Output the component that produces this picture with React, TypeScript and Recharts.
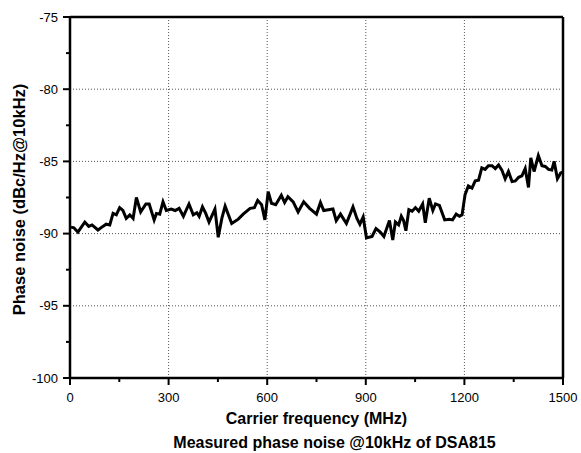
import React from "react";
import { LineChart, Line, XAxis, YAxis, ReferenceLine } from "recharts";

const freq = [
  3, 12, 24, 45, 57, 67, 85, 100, 110, 121, 131, 141, 151, 161, 171, 182, 192, 202, 215, 231, 241, 256, 263, 273, 283, 293, 308,
  320, 332, 345, 362, 375, 386, 393, 403, 413, 423, 441, 451, 462, 472, 492, 512, 527, 548, 561, 571, 583, 593, 603,
  613, 626, 643, 653, 663, 679, 694, 711, 729, 750, 762, 772, 800, 810, 823, 841, 861, 873, 882, 892, 902,
  919, 931, 944, 955, 972, 982, 990, 1000, 1008, 1015, 1022, 1031, 1041, 1051, 1061, 1073, 1081, 1093, 1104, 1112, 1124,
  1140, 1154, 1164, 1175, 1185, 1193, 1202, 1212, 1223, 1233, 1243, 1253, 1263, 1273, 1284, 1294, 1304, 1314, 1324, 1334,
  1345, 1355, 1365, 1375, 1385, 1395, 1402, 1412, 1425, 1436, 1446, 1456, 1466, 1473, 1483, 1493, 1499,
];

const noise = [
  -89.55, -89.6, -89.9, -89.2, -89.5, -89.4, -89.75, -89.5, -89.35, -89.4, -88.6, -88.7, -88.2, -88.4, -88.95, -88.7, -88.95, -87.5, -88.5, -87.95, -87.95, -89.05, -88.6, -88.65, -87.8, -88.4, -88.3,
  -88.4, -88.25, -88.8, -87.95, -88.7, -88.55, -88.8, -88.15, -88.6, -89.2, -88.3, -90.25, -88.95, -88.1, -89.3, -89.0, -88.65, -88.25, -88.2, -87.7, -88.0, -89.05, -87.1,
  -87.9, -88.0, -87.35, -87.85, -87.45, -87.8, -88.5, -87.8, -88.25, -88.65, -87.85, -88.4, -88.3, -89.1, -88.65, -89.3, -88.15, -88.95, -89.35, -88.85, -90.3,
  -90.2, -89.65, -89.9, -90.2, -89.1, -90.45, -89.2, -89.4, -88.8, -89.1, -89.8, -88.35, -88.45, -88.2, -88.45, -87.95, -89.25, -87.55, -88.4, -87.95, -88.05,
  -89.05, -89.0, -89.05, -88.65, -88.8, -88.7, -87.3, -86.7, -86.85, -86.35, -86.3, -85.45, -85.55, -85.3, -85.3, -85.5, -85.25, -85.6, -86.2, -85.7,
  -86.4, -86.35, -86.1, -86.0, -85.5, -86.8, -84.75, -85.7, -84.6, -85.3, -85.35, -85.55, -85.6, -85.0, -86.2, -85.8, -85.75,
];

const xTicks = [0, 150, 300, 450, 600, 750, 900, 1050, 1200, 1350, 1500];
const yTicks = [-100, -97.5, -95, -92.5, -90, -87.5, -85, -82.5, -80, -77.5, -75];
const xGrid = [300, 600, 900, 1200];
const yGrid = [-95, -90, -85, -80];
const xMax = 1500;
const yMax = -75;

const data = freq.map((f, i) => ({ f, v: noise[i] }));

const FONT = "'Liberation Sans', Arial, sans-serif";

const XTick = (props: any) => {
  const { x, y, payload } = props;
  const major = payload.value % 300 === 0;
  return (
    <g>
      <line x1={x} x2={x} y1={y} y2={y + (major ? 7 : 4)} stroke="#000" strokeWidth={2} />
      {major && (
        <text x={x} y={y + 24} textAnchor="middle" fontSize={13} fontFamily={FONT} fill="#000">
          {payload.value}
        </text>
      )}
    </g>
  );
};

const YTick = (props: any) => {
  const { x, y, payload } = props;
  const major = payload.value % 5 === 0;
  return (
    <g>
      <line x1={x} x2={x - (major ? 7 : 4)} y1={y} y2={y} stroke="#000" strokeWidth={2} />
      {major && (
        <text x={x - 12} y={y + 4.5} textAnchor="end" fontSize={13} fontFamily={FONT} fill="#000">
          {payload.value}
        </text>
      )}
    </g>
  );
};

const XLabel = (props: any) => {
  const vb = props.viewBox || { x: 70, y: 378, width: 493, height: 30 };
  const cx = vb.x + vb.width / 2;
  return (
    <g>
      <text x={cx} y={vb.y + 46} textAnchor="middle" fontSize={16} fontWeight="bold" fontFamily={FONT} fill="#000">
        Carrier frequency (MHz)
      </text>
      <text x={cx + 18} y={vb.y + 70} textAnchor="middle" fontSize={16} fontWeight="bold" fontFamily={FONT} fill="#000">
        Measured phase noise @10kHz of DSA815
      </text>
    </g>
  );
};

const YLabel = (props: any) => {
  const vb = props.viewBox || { x: 0, y: 17, width: 70, height: 361 };
  const cx = vb.x + 25;
  const cy = vb.y + vb.height / 2 + 2;
  return (
    <text
      x={cx}
      y={cy}
      transform={`rotate(-90 ${cx} ${cy})`}
      textAnchor="middle"
      fontSize={16.5}
      fontWeight="bold"
      fontFamily={FONT}
      fill="#000"
    >
      Phase noise (dBc/Hz@10kHz)
    </text>
  );
};

export default function App() {
  return (
    <div style={{ position: "fixed", left: 0, top: 0, width: 581, height: 453, background: "#fff" }}>
      <LineChart width={581} height={453} data={data} margin={{ top: 17, right: 18, bottom: 45, left: 0 }}>
        {xGrid.map((g) => (
          <ReferenceLine key={"x" + g} x={g} stroke="#555" strokeWidth={1} strokeDasharray="1 2" />
        ))}
        {yGrid.map((g) => (
          <ReferenceLine key={"y" + g} y={g} stroke="#555" strokeWidth={1} strokeDasharray="1 2" />
        ))}
        <ReferenceLine x={xMax} stroke="#000" strokeWidth={2.5} />
        <ReferenceLine y={yMax} stroke="#000" strokeWidth={2.5} />
        <XAxis
          dataKey="f"
          type="number"
          domain={[0, 1500]}
          ticks={xTicks}
          interval={0}
          tickSize={0}
          tickMargin={0}
          tickLine={false}
          tick={<XTick />}
          axisLine={{ stroke: "#000", strokeWidth: 2.5 }}
          height={30}
          allowDataOverflow
          label={<XLabel />}
        />
        <YAxis
          type="number"
          domain={[-100, -75]}
          ticks={yTicks}
          interval={0}
          tickSize={0}
          tickMargin={0}
          tickLine={false}
          tick={<YTick />}
          axisLine={{ stroke: "#000", strokeWidth: 2.5 }}
          width={70}
          allowDataOverflow
          label={<YLabel />}
        />
        <Line
          type="linear"
          dataKey="v"
          stroke="#000"
          strokeWidth={3}
          dot={false}
          isAnimationActive={false}
        />
      </LineChart>
    </div>
  );
}
